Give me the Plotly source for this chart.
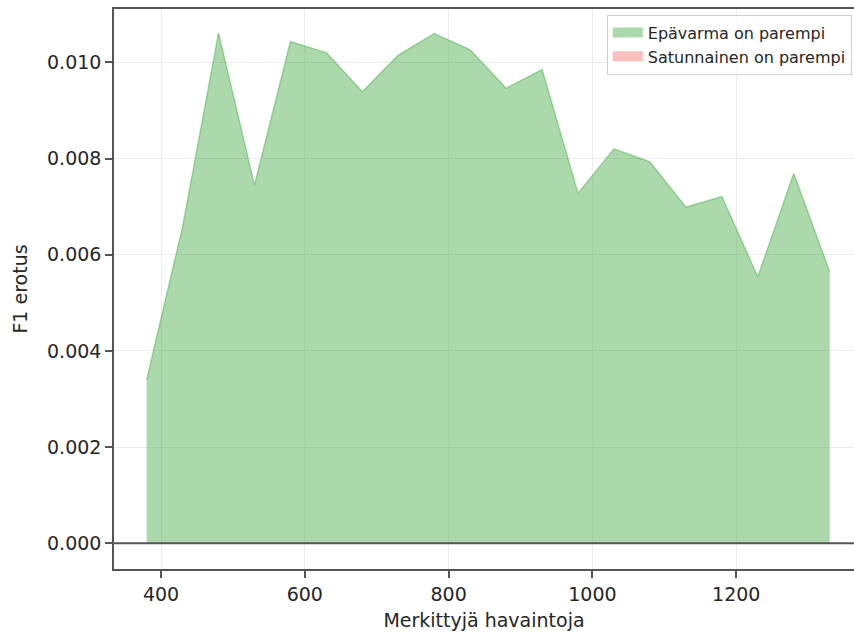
import plotly.graph_objects as go

# Number of labelled observations and F1 difference (uncertainty sampling minus random)
merkityt = [380, 430, 480, 530, 580, 630, 680, 730, 780, 830,
            880, 930, 980, 1030, 1080, 1130, 1180, 1230, 1280, 1330]
f1_erotus = [0.00340, 0.00658, 0.01061, 0.00745, 0.01043, 0.01020, 0.00939,
             0.01015, 0.01060, 0.01026, 0.00946, 0.00985, 0.00728, 0.00820,
             0.00793, 0.00699, 0.00721, 0.00554, 0.00769, 0.00565]

x_ticks = [400, 600, 800, 1000, 1200]
y_ticks = [0.000, 0.002, 0.004, 0.006, 0.008, 0.010]

sarja_pos = "Epävarma on parempi"
sarja_neg = "Satunnainen on parempi"

pos = [max(v, 0.0) for v in f1_erotus]
neg = [min(v, 0.0) for v in f1_erotus]

FONT = "DejaVu Sans"
TXT = "#262626"
AXC = "#555555"
GREEN = "rgba(44,160,44,0.4)"
RED = "rgba(235,45,45,0.3)"

fig = go.Figure()
# filled areas (above zero: green, below zero: red)
fig.add_trace(go.Scatter(
    x=merkityt, y=pos, mode="lines", name=sarja_pos, showlegend=False,
    fill="tozeroy", fillcolor=GREEN, line=dict(color=GREEN, width=1.4),
))
fig.add_trace(go.Scatter(
    x=merkityt, y=neg, mode="lines", name=sarja_neg, showlegend=False,
    fill="tozeroy", fillcolor=RED, line=dict(color=RED, width=0),
))
# legend patches
for nimi, vari in [(sarja_pos, GREEN), (sarja_neg, RED)]:
    fig.add_trace(go.Scatter(
        x=[None], y=[None], mode="lines", name=nimi,
        line=dict(color=vari, width=12),
    ))

# horizontal reference line at zero
fig.add_shape(type="line", xref="paper", x0=0, x1=1, yref="y", y0=0, y1=0,
              line=dict(color=AXC, width=2), layer="above")

fig.update_layout(
    width=854, height=632,
    margin=dict(l=114, r=0, t=9, b=63),
    paper_bgcolor="white", plot_bgcolor="white",
    font=dict(family=FONT, size=19, color=TXT),
    showlegend=True,
    legend=dict(
        x=0.997, y=0.99, xanchor="right", yanchor="top",
        bgcolor="rgba(255,255,255,0.8)", bordercolor="#d0d0d0", borderwidth=1,
        font=dict(family=FONT, size=16, color=TXT),
        tracegroupgap=0,
    ),
    xaxis=dict(
        range=[334.6, 1363.8], tickvals=x_ticks,
        showgrid=True, gridcolor="#ebebeb", gridwidth=1,
        showline=True, linecolor=AXC, linewidth=1.5, mirror=True,
        ticks="outside", ticklen=7, tickwidth=1.5, tickcolor=AXC,
        zeroline=False,
        title=dict(text="Merkittyjä havaintoja", standoff=10,
                   font=dict(family=FONT, size=19, color=TXT)),
    ),
    yaxis=dict(
        range=[-0.000534, 0.011108], tickvals=y_ticks, tickformat=".3f",
        showgrid=True, gridcolor="#ebebeb", gridwidth=1,
        showline=True, linecolor=AXC, linewidth=1.5, mirror=False,
        ticks="outside", ticklen=7, tickwidth=1.5, tickcolor=AXC,
        zeroline=False,
        title=dict(text="F1 erotus", standoff=14,
                   font=dict(family=FONT, size=19, color=TXT)),
    ),
)

fig.write_html("out.html")
